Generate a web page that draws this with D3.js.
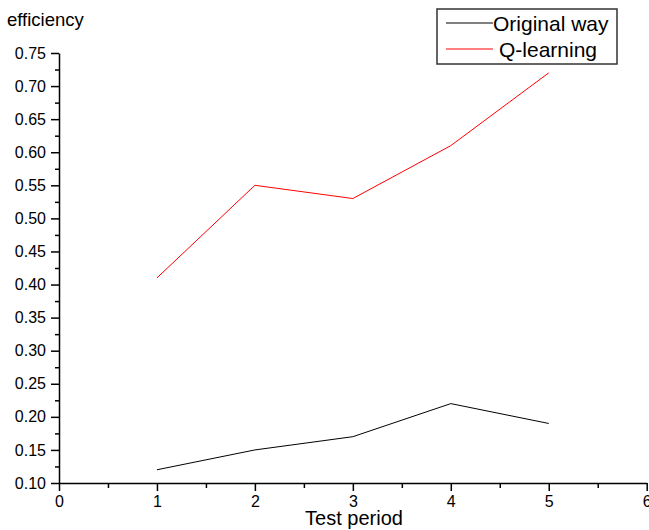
<!DOCTYPE html>
<html>
<head>
<meta charset="utf-8">
<script src="https://cdn.jsdelivr.net/npm/d3@7"></script>
<style>
  body { margin: 0; background: #fff; }
  text { font-family: "Liberation Sans", Arial, sans-serif; fill: #000; }
</style>
</head>
<body>
<svg id="chart" width="649" height="530"></svg>
<script>
// test periods and efficiency per method
const periods = [1, 2, 3, 4, 5]
const originalWay = [0.12, 0.15, 0.17, 0.22, 0.19]
const qLearning = [0.41, 0.55, 0.53, 0.61, 0.72]
const xTicks = [0, 1, 2, 3, 4, 5, 6]
const yTicks = [0.10, 0.15, 0.20, 0.25, 0.30, 0.35, 0.40, 0.45, 0.50, 0.55, 0.60, 0.65, 0.70, 0.75]
const seriesNames = ["Original way", "Q-learning"]
const seriesColors = ["#000000", "#ff0000"]

const svg = d3.select("#chart")

const x = d3.scaleLinear().domain([0, 6]).range([59, 646.7])
const y = d3.scaleLinear().domain([0.10, 0.75]).range([483, 53])

// minor ticks first, so the major ones sit on top
const xMinor = d3.range(0.5, 6, 1)
const yMinor = d3.range(0.125, 0.75, 0.05)

svg.append("g")
  .attr("transform", "translate(0,483)")
  .call(d3.axisBottom(x).tickValues(xMinor).tickSize(5).tickFormat(""))
  .call(g => g.select(".domain").remove())

svg.append("g")
  .attr("transform", "translate(59,0)")
  .call(d3.axisLeft(y).tickValues(yMinor).tickSize(4).tickFormat(""))
  .call(g => g.select(".domain").remove())

const xAxis = svg.append("g")
  .attr("transform", "translate(0,483)")
  .call(d3.axisBottom(x).tickValues(xTicks).tickSize(8).tickSizeOuter(0).tickPadding(5).tickFormat(d3.format("d")))
xAxis.selectAll("text").style("font-size", "16px")

const yAxis = svg.append("g")
  .attr("transform", "translate(59,0)")
  .call(d3.axisLeft(y).tickValues(yTicks).tickSize(8).tickSizeOuter(0).tickPadding(5).tickFormat(d3.format(".2f")))
yAxis.selectAll("text").style("font-size", "16px")

svg.selectAll(".domain, .tick line").attr("stroke", "#000").attr("stroke-width", 1.5)

const line = d3.line().x((d, i) => x(periods[i])).y(d => y(d))

;[originalWay, qLearning].forEach((vals, i) => {
  svg.append("path")
    .datum(vals)
    .attr("d", line)
    .attr("fill", "none")
    .attr("stroke", seriesColors[i])
    .attr("stroke-width", 1)
})

// axis titles
svg.append("text").attr("x", 7).attr("y", 26).style("font-size", "18.5px").text("efficiency")
svg.append("text").attr("x", 354).attr("y", 525).attr("text-anchor", "middle").style("font-size", "20px").text("Test period")

// legend
const legend = svg.append("g")
legend.append("rect")
  .attr("x", 437).attr("y", 9).attr("width", 180).attr("height", 55)
  .attr("fill", "#fff").attr("stroke", "#333").attr("stroke-width", 1.5)

const legendRows = [23, 49]
const legendTextX = [493, 499]
seriesNames.forEach((name, i) => {
  legend.append("line")
    .attr("x1", 446).attr("x2", 493)
    .attr("y1", legendRows[i]).attr("y2", legendRows[i])
    .attr("stroke", seriesColors[i]).attr("stroke-width", 1)
  legend.append("text")
    .attr("x", legendTextX[i]).attr("y", legendRows[i] + 8)
    .style("font-size", "21px")
    .text(name)
})
</script>
</body>
</html>
